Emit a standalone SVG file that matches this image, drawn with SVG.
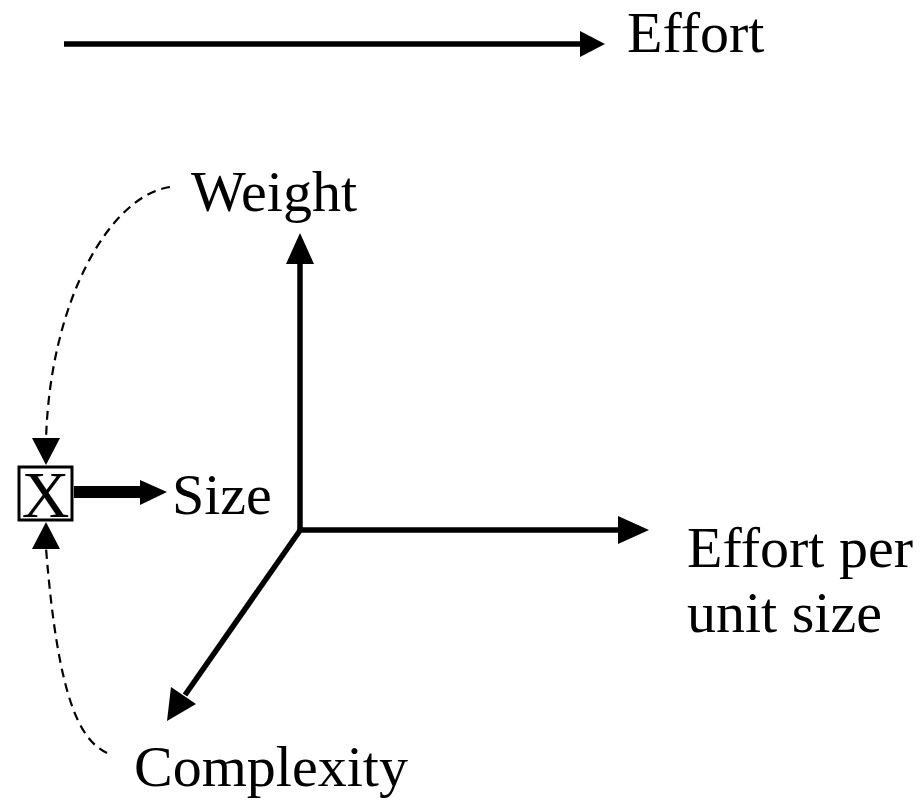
<svg xmlns="http://www.w3.org/2000/svg" width="922" height="800" viewBox="0 0 922 800">
  <style>
    .lbl { font-family: "Liberation Serif", "Times New Roman", serif; font-size: 58px; fill: #000; }
    .axis { stroke: #000; stroke-width: 5.5; fill: none; }
    .dash { stroke: #000; stroke-width: 2.2; fill: none; stroke-dasharray: 9 6; }
    .head { fill: #000; }
  </style>
  <rect width="922" height="800" fill="#fff"/>

  <g id="connectors">
    <!-- overall effort arrow -->
    <line class="axis" x1="64" y1="44" x2="584" y2="44"/>
    <polygon class="head" points="605,44 580,31 580,57"/>
    <!-- weight axis -->
    <line class="axis" x1="300" y1="532" x2="300" y2="260"/>
    <polygon class="head" points="300,233 286,264 314,264"/>
    <!-- effort per unit size axis -->
    <line class="axis" x1="298" y1="530" x2="622" y2="530"/>
    <polygon class="head" points="649,530 618,516 618,544"/>
    <!-- complexity axis -->
    <line class="axis" x1="301" y1="529" x2="185" y2="695"/>
    <polygon class="head" points="167,721 171,687 196,704"/>
    <!-- size output -->
    <line stroke="#000" stroke-width="12" x1="74" y1="492" x2="145" y2="492"/>
    <polygon class="head" points="167,492 140,480 140,505"/>
    <!-- dashed feedback curves -->
    <path class="dash" d="M170,187 C110,196 50,300 46,440"/>
    <polygon class="head" points="46,465 32,438 60,438"/>
    <path class="dash" d="M107,753 C80,740 58,700 46,548"/>
    <polygon class="head" points="46,522 32,549 60,549"/>
  </g>

  <g id="multiplier">
    <rect x="19" y="467" width="53" height="53" fill="#fff" stroke="#000" stroke-width="3"/>
    <text x="45.5" y="517" text-anchor="middle" font-family="Liberation Serif, serif" font-size="66">X</text>
  </g>

  <g id="effort"><text class="lbl" x="627" y="52">Effort</text></g>
  <g id="weight"><text class="lbl" x="191" y="211">Weight</text></g>
  <g id="size"><text class="lbl" x="172" y="514">Size</text></g>
  <g id="effort-per-unit"><text class="lbl" x="687" y="567">Effort per</text><text class="lbl" x="687" y="632">unit size</text></g>
  <g id="complexity"><text class="lbl" x="134" y="786">Complexity</text></g>
</svg>
